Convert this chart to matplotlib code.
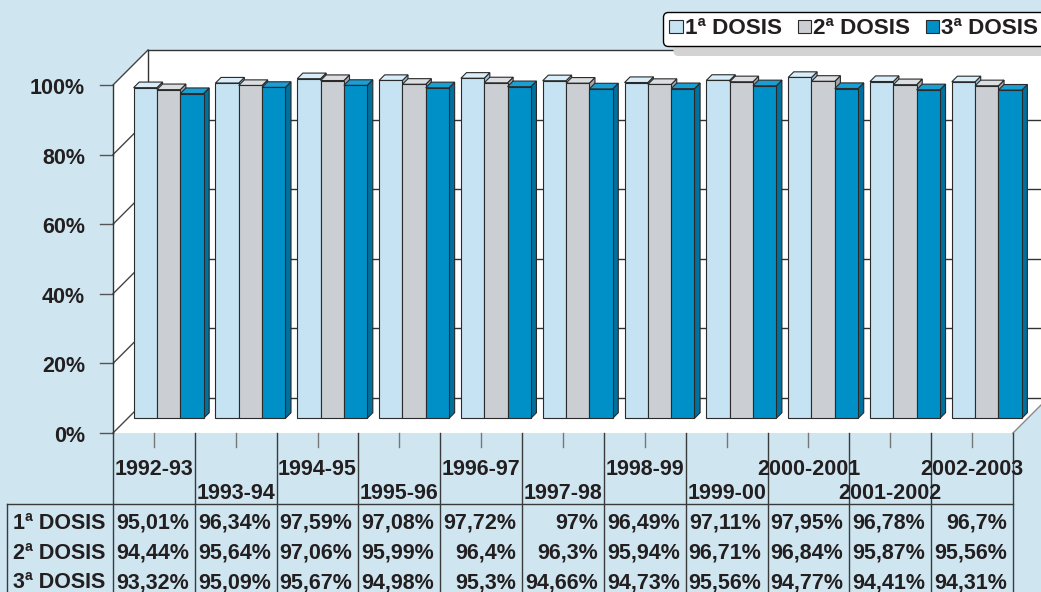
import numpy as np
import matplotlib.pyplot as plt
from matplotlib.patches import Polygon

plt.rcParams['font.family'] = ['Liberation Sans', 'DejaVu Sans']
plt.rcParams['font.weight'] = 'bold'
plt.rcParams['font.size'] = 15.5

# datos
temporadas = ["1992-93", "1993-94", "1994-95", "1995-96", "1996-97", "1997-98",
              "1998-99", "1999-00", "2000-2001", "2001-2002", "2002-2003"]
dosis1 = [95.01, 96.34, 97.59, 97.08, 97.72, 97.0, 96.49, 97.11, 97.95, 96.78, 96.7]
dosis2 = [94.44, 95.64, 97.06, 95.99, 96.4, 96.3, 95.94, 96.71, 96.84, 95.87, 95.56]
dosis3 = [93.32, 95.09, 95.67, 94.98, 95.3, 94.66, 94.73, 95.56, 94.77, 94.41, 94.31]
nombres = ["1ª DOSIS", "2ª DOSIS", "3ª DOSIS"]
yticks = [0, 20, 40, 60, 80, 100]

# estilo
fondo = '#cfe5f0'
frente = ['#c5e3f3', '#cbced2', '#0090c8']
arriba = ['#d9eef9', '#dcdee1', '#1a9fd4']
lado = ['#9cc4da', '#a3a6aa', '#00709e']
borde = '#2a2a2a'
texto = '#231f20'

n = len(temporadas)
px = 900 / n          # pixeles por categoria
py = 3.48             # pixeles por punto porcentual
DX, DY = 35 / px, 35 / py   # profundidad del 3D
d0, d1 = 0.42, 0.16         # posicion y grosor de las barras en profundidad
ancho = 0.285

fig = plt.figure(figsize=(10.41, 5.92), dpi=100, facecolor=fondo)
ax = fig.add_axes([0, 0, 1, 1])
ax.axis('off')
ax.set_xlim(-0.5 - 113 / px, -0.5 + (1041 - 113) / px)
ax.set_ylim(-(592 - 433) / py, 433 / py)

x0, x1 = -0.5, n - 0.5

###############################################################################
# paredes
###############################################################################
paredes = [
    [(x0, 0), (x0 + DX, DY), (x0 + DX, 100 + DY), (x0, 100)],
    [(x0 + DX, DY), (x1 + DX, DY), (x1 + DX, 100 + DY), (x0 + DX, 100 + DY)],
    [(x0, 0), (x1, 0), (x1 + DX, DY), (x0 + DX, DY)],
]
for p in paredes:
    ax.add_patch(Polygon(p, closed=True, facecolor='white', edgecolor='none', zorder=1))

for v in yticks:
    ax.plot([x0 + DX, x1 + DX], [v + DY, v + DY], color='#333333', lw=1.0, zorder=2)
    ax.plot([x0, x0 + DX], [v, v + DY], color='#444444', lw=1.0, zorder=2)
    ax.plot([x0 - 0.16, x0], [v, v], color='#555555', lw=1.0, zorder=2)
    ax.text(x0 - 0.34, v - 1.0, f"{v}%", ha='right', va='center', color=texto)
ax.plot([x0 + DX, x0 + DX], [DY, 100 + DY], color='#333333', lw=1.0, zorder=2)
ax.plot([x0, x0], [0, 100], color='#333333', lw=1.0, zorder=2)
ax.plot([x1, x1 + DX], [0, DY], color='#8a8a8a', lw=1.0, zorder=2)

###############################################################################
# barras 3D
###############################################################################
series = [dosis1, dosis2, dosis3]
handles = []
for k, vals in enumerate(series):
    xs = np.arange(n) + d0 * DX + (k - 1) * ancho
    b = d0 * DY
    for xc, v in zip(xs, vals):
        xl, xr, t = xc - ancho / 2, xc + ancho / 2, b + v
        ox, oy = d1 * DX, d1 * DY
        ax.add_patch(Polygon([(xr, b), (xr + ox, b + oy), (xr + ox, t + oy), (xr, t)],
                             facecolor=lado[k], edgecolor=borde, lw=0.8, zorder=3 + 2 * k))
        ax.add_patch(Polygon([(xl, t), (xr, t), (xr + ox, t + oy), (xl + ox, t + oy)],
                             facecolor=arriba[k], edgecolor=borde, lw=0.8, zorder=3 + 2 * k))
    h = ax.bar(xs, vals, width=ancho, bottom=b, color=frente[k], edgecolor=borde,
               linewidth=0.8, zorder=4 + 2 * k, label=nombres[k])
    handles.append(h)

###############################################################################
# tabla inferior
###############################################################################
yb = ax.get_ylim()[0]
ylin = -20.4
xborde = -0.5 - 106 / px
for i in range(n + 1):
    ax.plot([i - 0.5, i - 0.5], [0, yb], color='#3a3a3a', lw=1.0)
for i in range(n):
    ax.plot([i, i], [0, -4.0], color='#777777', lw=1.0)
    ax.text(i, -10.4 if i % 2 == 0 else -17.5, temporadas[i], ha='center', va='center',
            color=texto)
ax.plot([xborde, x1], [ylin, ylin], color='#3a3a3a', lw=1.0)
ax.plot([xborde, xborde], [ylin, yb], color='#3a3a3a', lw=1.0)

filas_y = [-25.9, -34.6, -43.0]
for k, vals in enumerate(series):
    ax.text(x0 - 8 / px, filas_y[k], nombres[k], ha='right', va='center', color=texto)
    for i, v in enumerate(vals):
        s = f"{v:g}".replace('.', ',') + '%'
        ax.text(i + 0.5 - 0.073, filas_y[k], s, ha='right', va='center', color=texto)

###############################################################################
# leyenda
###############################################################################
leg = ax.legend(handles=handles, loc='upper left', bbox_to_anchor=(663 / 1041, 1 - 12 / 592),
                bbox_transform=fig.transFigure, ncol=3, frameon=True, fancybox=True,
                shadow={'ox': 8, 'oy': -7, 'color': '#d3d3d3', 'alpha': 1},
                handlelength=0.59, handleheight=0.5, handletextpad=0.1,
                columnspacing=0.7, borderpad=0.28, borderaxespad=0,
                prop={'weight': 'bold', 'size': 16.2})
leg.get_frame().set_edgecolor('black')
leg.get_frame().set_linewidth(1.0)
leg.get_frame().set_alpha(1)
leg.set_zorder(20)
for t in leg.get_texts():
    t.set_color(texto)

plt.savefig("out.png", dpi=100, facecolor=fondo)
